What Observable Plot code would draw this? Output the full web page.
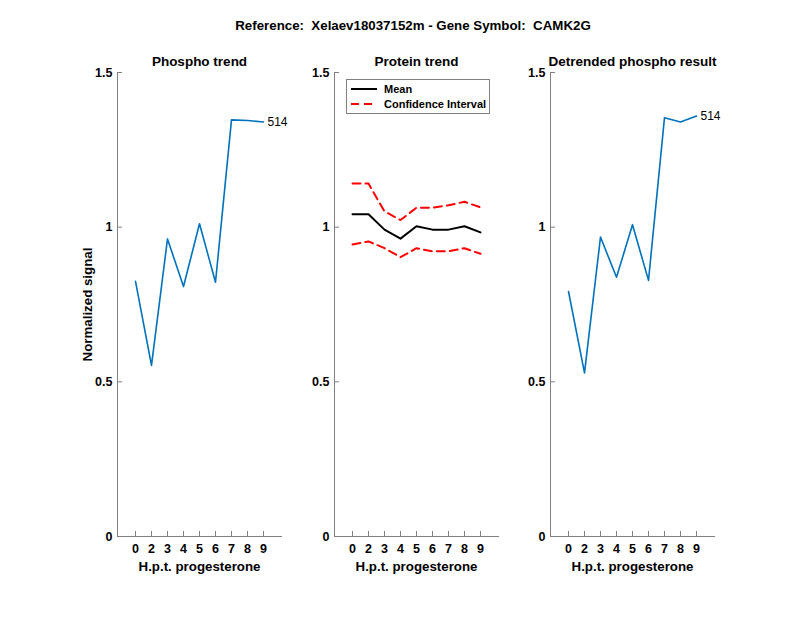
<!DOCTYPE html>
<html><head><meta charset="utf-8">
<script src="https://cdn.jsdelivr.net/npm/d3@7"></script>
<script src="https://cdn.jsdelivr.net/npm/@observablehq/plot@0.6"></script>
<style>
body{margin:0;background:#fff;font-family:"Liberation Sans",Arial,sans-serif}
#wrap{position:relative;width:800px;height:618px;overflow:hidden;background:#fff}
.panel{position:absolute;top:0}
#sup{position:absolute;top:18px;left:163px;width:500px;text-align:center;font-weight:bold;font-size:13.3px;line-height:15px;color:#000;white-space:pre}
#legend{position:absolute;left:346px;top:79px;width:142px;height:33px;border:1px solid #808080;background:#fff;font-weight:bold;font-size:11px;color:#000;z-index:5}
#legend .row{position:absolute;left:3px;height:14px;display:flex;align-items:center}
#legend svg{margin-right:6px}
</style></head>
<body><div id="wrap"><div id="sup"></div></div>
<script>
// ---- data ----
const hours = ["0","2","3","4","5","6","7","8","9"];
const phospho = [0.825,0.553,0.962,0.808,1.011,0.822,1.347,1.345,1.340];
const proteinMean = [1.042,1.042,0.992,0.963,1.003,0.992,0.992,1.003,0.983];
const proteinUpper = [1.141,1.141,1.051,1.023,1.063,1.063,1.071,1.082,1.064];
const proteinLower = [0.944,0.954,0.932,0.903,0.932,0.922,0.922,0.932,0.914];
const detrended = [0.792,0.529,0.968,0.838,1.008,0.828,1.354,1.340,1.359];
const yTicks = [0,0.5,1,1.5];
const peptideLabel = "514";
const panelTitles = ["Phospho trend","Protein trend","Detrended phospho result"];
const superTitle = "Reference:  Xelaev18037152m - Gene Symbol:  CAMK2G";
const xLabel = "H.p.t. progesterone";
const yLabel = "Normalized signal";
const legendLabels = ["Mean","Confidence Interval"];

const blue = "#0072BD", red = "#FF0000", axisGray = "#808080";
const font = "Liberation Sans, Arial, sans-serif";
const rows = a => hours.map((h,i)=>({h, v:a[i]}));

document.getElementById("sup").textContent = superTitle;
const wrap = document.getElementById("wrap");

function panel(axisLeft, title, marks, first) {
  const mL = 60, mR = 40, frameW = 164;
  const p = Plot.plot({
    width: mL+frameW+mR, height: 618,
    marginLeft: mL, marginRight: mR, marginTop: 72, marginBottom: 82,
    style: {background:"transparent", overflow:"visible", fontFamily: font, color:"#000"},
    x: {type:"point", domain: hours, padding: 1},
    y: {domain:[0,1.5]},
    marks: [
      Plot.frame({anchor:"left", stroke:axisGray}),
      Plot.frame({anchor:"bottom", stroke:axisGray}),
      Plot.axisX({tickSize:-5, tickPadding:13, fontSize:12.5, fontWeight:"bold", stroke:axisGray, label:null}),
      Plot.axisY({ticks:yTicks, tickSize:-5, tickPadding:10, fontSize:12.5, fontWeight:"bold", stroke:axisGray, label:null, tickFormat: d=>String(d)}),
      Plot.text([title], {frameAnchor:"top", lineAnchor:"middle", dy:-11, fontWeight:"bold", fontSize:13.5}),
      Plot.text([xLabel], {frameAnchor:"bottom", lineAnchor:"middle", dy:30, fontWeight:"bold", fontSize:13.3}),
      ...(first ? [Plot.text([yLabel], {frameAnchor:"left", textAnchor:"middle", lineAnchor:"middle", dx:-30, rotate:-90, fontWeight:"bold", fontSize:13.3})] : []),
      ...marks
    ]
  });
  p.classList.add("panel");
  p.style.left = (axisLeft - mL) + "px";
  wrap.appendChild(p);
}

const pr = rows(phospho), dr = rows(detrended);
panel(117, panelTitles[0], [
  Plot.line(pr, {x:"h", y:"v", stroke:blue, strokeWidth:1.6}),
  Plot.text([pr[pr.length-1]], {x:"h", y:"v", text:()=>peptideLabel, textAnchor:"start", dx:4, fontSize:12})
], true);
panel(334, panelTitles[1], [
  Plot.line(rows(proteinUpper), {x:"h", y:"v", stroke:red, strokeWidth:2, strokeDasharray:"8,5"}),
  Plot.line(rows(proteinLower), {x:"h", y:"v", stroke:red, strokeWidth:2, strokeDasharray:"8,5"}),
  Plot.line(rows(proteinMean), {x:"h", y:"v", stroke:"#000", strokeWidth:2})
], false);
panel(550, panelTitles[2], [
  Plot.line(dr, {x:"h", y:"v", stroke:blue, strokeWidth:1.6}),
  Plot.text([dr[dr.length-1]], {x:"h", y:"v", text:()=>peptideLabel, textAnchor:"start", dx:4, fontSize:12})
], false);

// legend
const lg = document.createElement("div");
lg.id = "legend";
const styles = [{stroke:"#000", dash:""},{stroke:red, dash:"8,5"}];
legendLabels.forEach((lab,i)=>{
  const r = document.createElement("div");
  r.className = "row";
  r.style.top = (2 + i*15) + "px";
  r.innerHTML = `<svg width="28" height="8"><line x1="1" y1="4" x2="27" y2="4" stroke="${styles[i].stroke}" stroke-width="2" stroke-dasharray="${styles[i].dash}"/></svg><span>${lab}</span>`;
  lg.appendChild(r);
});
wrap.appendChild(lg);
</script>
</body></html>
